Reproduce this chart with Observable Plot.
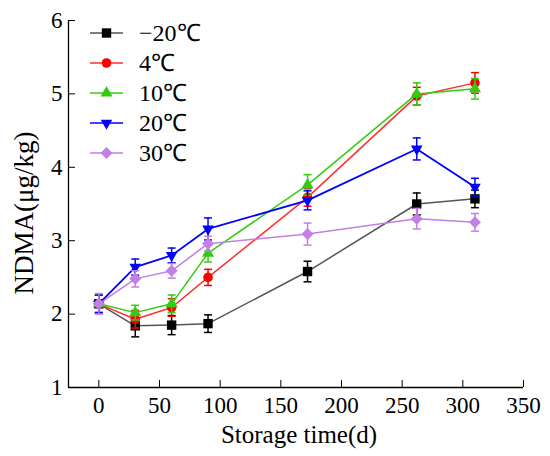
<!DOCTYPE html>
<html><head><meta charset="utf-8">
<script src="https://cdn.jsdelivr.net/npm/d3@7"></script>
<script src="https://cdn.jsdelivr.net/npm/@observablehq/plot@0.6"></script>
<style>
body{margin:0;background:#fff;}
#wrap{position:relative;width:550px;height:456px;font-family:"Liberation Serif",serif;}
#legend{position:absolute;left:90px;top:18px;font-family:"Liberation Serif",serif;}
.row{display:flex;align-items:center;height:30px;font-size:24px;line-height:30px;color:#000;font-family:"Liberation Serif",serif;}
.row svg{margin-right:15px;display:block;}
#wrap svg text{font-family:"Liberation Serif",serif !important;}
</style></head><body><div id="wrap"><div id="legend"></div></div>
<script>
const times = [0, 30, 60, 90, 172, 262, 310];
const seriesNames = ["−20℃", "4℃", "10℃", "20℃", "30℃"];
const valuesM20 = [2.14, 1.84, 1.85, 1.87, 2.58, 3.50, 3.57];
const errM20    = [0.12, 0.15, 0.13, 0.12, 0.14, 0.15, 0.12];
const values4   = [2.14, 1.93, 2.09, 2.50, 3.59, 4.97, 5.15];
const err4      = [0.12, 0.12, 0.12, 0.11, 0.12, 0.12, 0.14];
const values10  = [2.14, 2.02, 2.14, 2.83, 3.76, 5.00, 5.07];
const err10     = [0.12, 0.10, 0.12, 0.12, 0.14, 0.15, 0.14];
const values20  = [2.14, 2.64, 2.80, 3.16, 3.55, 4.25, 3.73];
const err20     = [0.12, 0.11, 0.10, 0.15, 0.13, 0.15, 0.12];
const values30  = [2.14, 2.48, 2.59, 2.96, 3.09, 3.30, 3.25];
const err30     = [0.14, 0.11, 0.10, 0.10, 0.15, 0.14, 0.12];
const xTicks = [0, 50, 100, 150, 200, 250, 300, 350];
const yTicks = [1, 2, 3, 4, 5, 6];
const xDomain = [-25, 350];
const yDomain = [1, 6];
const xTitle = "Storage time(d)";
const yTitle = "NDMA(μg/kg)";

const colors = ["#000000", "#ff0000", "#33cc11", "#0000ff", "#c27fe6"];
const lineColors = ["#555555", "#ff3030", "#33cc11", "#0000ff", "#c27fe6"];
const allValues = [valuesM20, values4, values10, values20, values30];
const allErr = [errM20, err4, err10, err20, err30];

const triangleDown = {draw(ctx, size) {
  const y = -Math.sqrt(size / (3 * Math.sqrt(3)));
  ctx.moveTo(0, -2 * y);
  ctx.lineTo(-Math.sqrt(3) * y, y);
  ctx.lineTo(Math.sqrt(3) * y, y);
  ctx.closePath();
}};
const cap = {draw(ctx, size) { ctx.moveTo(-4, 0); ctx.lineTo(4, 0); }};
const symbols = ["square", "circle", "triangle", triangleDown, "diamond2"];
const radii = [5.3, 4.8, 4.5, 4.3, 5.4];

const rows = [];
seriesNames.forEach((s, i) => times.forEach((t, j) => rows.push({series: s, idx: i, time: t, value: allValues[i][j], err: allErr[i][j]})));

const serif = "Liberation Serif, serif";
const marks = [
  Plot.ruleX([xDomain[0]], {y1: yDomain[0], y2: yDomain[1], stroke: "#000", strokeWidth: 1.3}),
  Plot.ruleY([yDomain[0]], {x1: xDomain[0], x2: xDomain[1], stroke: "#000", strokeWidth: 1.3}),
  Plot.axisX({ticks: xTicks, tickSize: -7, tickPadding: 16, tickFormat: d3.format("d"), fontSize: 23, fontFamily: serif, label: null}),
  Plot.axisY({ticks: yTicks, tickSize: -7, tickPadding: 13, tickFormat: d3.format("d"), fontSize: 23, fontFamily: serif, label: null}),
  Plot.text([xTitle], {text: d => d, frameAnchor: "bottom", textAnchor: "middle", lineAnchor: "middle", dx: 3, dy: 47, fontSize: 25, fontFamily: serif, fill: "#000"}),
  Plot.text([yTitle], {text: d => d, frameAnchor: "left", textAnchor: "middle", lineAnchor: "middle", rotate: -90, dx: -44, dy: 9, fontSize: 27, fontFamily: serif, fill: "#000"})
];
seriesNames.forEach((s, i) => {
  const f = d => d.idx === i;
  marks.push(
    Plot.line(rows, {filter: f, x: "time", y: "value", stroke: lineColors[i], strokeWidth: i === 3 ? 1.8 : 1.5}),
    Plot.ruleX(rows, {filter: f, x: "time", y1: d => d.value - d.err, y2: d => d.value + d.err, stroke: colors[i], strokeWidth: 1.5}),
    Plot.dot(rows, {filter: f, x: "time", y: d => d.value + d.err, symbol: cap, fill: "none", stroke: colors[i], strokeWidth: 1.5}),
    Plot.dot(rows, {filter: f, x: "time", y: d => d.value - d.err, symbol: cap, fill: "none", stroke: colors[i], strokeWidth: 1.5}),
    Plot.dot(rows, {filter: f, x: "time", y: "value", symbol: symbols[i], r: radii[i], fill: colors[i], stroke: "none"})
  );
});

const chart = Plot.plot({
  width: 550, height: 456,
  marginLeft: 68, marginRight: 27, marginTop: 20, marginBottom: 69,
  style: {fontFamily: serif, fontSize: "22px", color: "#000", background: "#fff", overflow: "visible"},
  x: {domain: xDomain},
  y: {domain: yDomain},
  marks
});
const wrap = document.getElementById("wrap");
wrap.insertBefore(chart, wrap.firstChild);

// legend
const legend = d3.select("#legend");
seriesNames.forEach((s, i) => {
  const row = legend.append("div").attr("class", "row");
  const svg = row.append("svg").attr("width", 34).attr("height", 30);
  svg.append("line").attr("x1", 0).attr("x2", 33).attr("y1", 15).attr("y2", 15).attr("stroke", lineColors[i]).attr("stroke-width", 1.5);
  const symType = typeof symbols[i] === "string"
    ? {square: d3.symbolSquare, circle: d3.symbolCircle, triangle: d3.symbolTriangle, diamond2: d3.symbolDiamond2}[symbols[i]]
    : symbols[i];
  svg.append("path").attr("transform", "translate(16.5,15)")
    .attr("d", d3.symbol(symType, Math.PI * radii[i] * radii[i])())
    .attr("fill", colors[i]);
  row.append("span").text(s);
});
</script></body></html>
